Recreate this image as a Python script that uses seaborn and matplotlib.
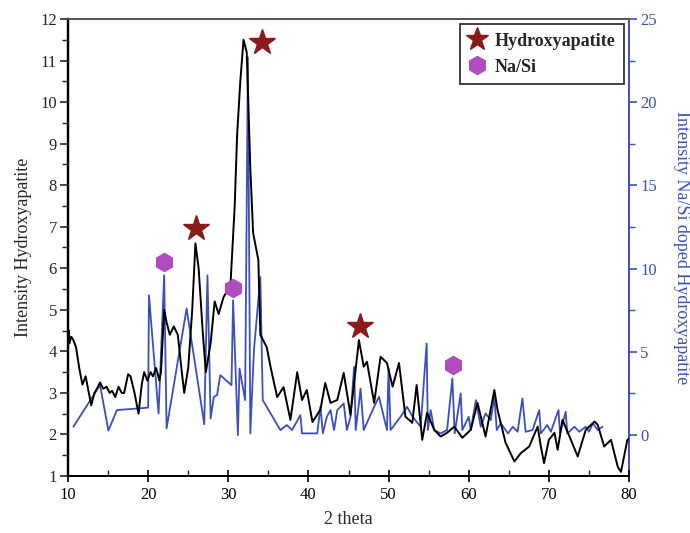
import numpy as np
import pandas as pd
import matplotlib
matplotlib.use("Agg")
import matplotlib.pyplot as plt
from matplotlib.ticker import MultipleLocator
from matplotlib.lines import Line2D
import seaborn as sns

# ---- data ----
hap_theta = [10.0, 10.1, 10.2, 10.4, 10.6, 11.0, 11.4, 11.8, 12.2, 12.6, 12.9, 13.3, 13.6, 14.0,
             14.4, 14.8, 15.2, 15.5, 15.9, 16.3, 16.7, 17.0, 17.5, 17.8, 18.3, 18.8, 19.2, 19.5,
             19.9, 20.3, 20.6, 21.0, 21.4, 21.6, 22.0, 22.3, 22.7, 23.2, 23.7, 24.2, 24.5, 25.0,
             25.5, 25.9, 26.3, 26.8, 27.2, 27.8, 28.3, 28.8, 29.4, 30.0, 30.3, 30.8, 31.1, 31.5,
             31.9, 32.3, 32.75, 33.1, 33.75, 34.0, 34.8, 35.3, 36.1, 36.9, 37.75, 38.6, 39.2, 39.8,
             40.5, 41.5, 42.1, 42.75, 43.6, 44.4, 45.25, 46.3, 46.9, 47.3, 48.2, 49.0, 49.8, 50.5,
             51.3, 52.1, 52.96, 53.5, 54.2, 54.8, 55.7, 56.5, 57.3, 58.2, 59.2, 60.25, 61.1, 62.1,
             63.2, 63.6, 64.6, 65.7, 66.5, 67.55, 68.6, 69.0, 69.4, 70.0, 70.7, 71.1, 71.7, 72.75,
             73.6, 74.6, 75.7, 76.1, 76.9, 77.75, 78.6, 79.0, 79.8, 80.0]
hap_int = [4.1, 4.5, 4.2, 4.35, 4.3, 4.1, 3.6, 3.2, 3.4, 3.0, 2.7, 3.0, 3.1, 3.25,
           3.1, 3.15, 3.0, 3.05, 2.9, 3.15, 3.0, 3.0, 3.45, 3.4, 3.0, 2.5, 3.2, 3.5,
           3.3, 3.5, 3.4, 3.6, 3.3, 3.5, 5.0, 4.7, 4.4, 4.6, 4.4, 3.5, 3.0, 3.6,
           5.0, 6.6, 6.0, 4.5, 3.5, 4.2, 5.2, 4.9, 5.3, 5.5, 5.7, 7.5, 9.2, 10.5,
           11.5, 11.2, 8.4, 6.85, 6.2, 4.4, 4.1, 3.6, 2.9, 3.14, 2.35, 3.5, 2.83, 3.07,
           2.3, 2.6, 3.24, 2.76, 2.83, 3.48, 2.47, 4.27, 3.63, 3.75, 2.76, 3.87, 3.72, 3.15,
           3.72, 2.43, 2.28, 3.19, 1.87, 2.52, 2.11, 1.95, 2.04, 2.19, 1.92, 2.11, 2.76, 1.95,
           3.07, 2.59, 1.80, 1.35, 1.55, 1.71, 2.19, 1.71, 1.31, 1.87, 2.04, 1.63, 2.35, 1.87,
           1.47, 2.11, 2.31, 2.23, 1.71, 1.87, 1.22, 1.1, 1.87, 1.9]

nasi_theta = [10.67, 14.0, 15.04, 16.1, 20.0, 20.1, 21.3, 22.0, 22.3, 24.0, 24.8, 27.0, 27.4, 27.8,
              28.2, 28.6, 29.0, 30.4, 30.6, 31.2, 31.4, 32.1, 32.45, 32.75, 33.2, 34.0, 34.3, 36.5,
              37.3, 37.96, 39.0, 39.2, 41.1, 41.5, 41.8, 42.3, 42.75, 43.2, 43.6, 44.4, 44.8, 45.25,
              45.7, 45.9, 46.3, 46.5, 46.9, 48.2, 48.8, 49.4, 49.8, 50.0, 50.25, 51.5, 52.3, 53.0,
              54.0, 54.75, 54.9, 55.25, 55.7, 56.5, 57.3, 57.96, 58.25, 59.0, 59.2, 60.0, 60.25, 60.9,
              61.5, 62.1, 62.75, 63.2, 63.5, 64.0, 64.9, 65.5, 66.1, 66.7, 67.1, 67.96, 68.8, 69.0,
              69.8, 70.25, 71.2, 71.4, 72.1, 72.3, 73.2, 73.8, 74.6, 75.0, 75.5, 76.1, 76.7]
nasi_int = [0.5, 3.0, 0.27, 1.5, 1.65, 8.4, 1.3, 9.6, 0.4, 5.3, 7.6, 0.65, 9.6, 1.0,
            2.3, 2.4, 3.6, 3.0, 8.1, 0.0, 4.0, 2.1, 22.7, 0.1, 5.1, 9.5, 2.1, 0.3,
            0.6, 0.3, 1.2, 0.1, 0.1, 1.7, 0.1, 1.1, 1.5, 0.3, 1.5, 1.9, 0.3, 1.1,
            4.1, 0.3, 1.9, 2.8, 0.3, 1.7, 2.3, 1.1, 0.3, 4.0, 0.3, 1.1, 1.7, 1.1,
            0.5, 5.5, 0.3, 1.5, 0.3, 0.1, 0.3, 3.4, 0.1, 2.5, 0.3, 1.1, 0.3, 2.1,
            0.5, 1.3, 0.9, 2.3, 0.3, 0.7, 0.1, 0.5, 0.2, 2.2, 0.2, 0.3, 1.5, 0.1,
            0.6, 0.2, 1.5, 0.1, 1.4, 0.1, 0.5, 0.2, 0.5, 0.2, 0.7, 0.3, 0.5]

hap_peak_theta = [26.0, 34.2, 46.4]
hap_peak_int = [6.97, 11.45, 4.6]
nasi_peak_theta = [22.0, 30.6, 58.0]
nasi_peak_int = [6.15, 5.53, 3.67]

x_ticks = [10, 20, 30, 40, 50, 60, 70, 80]
left_ticks = list(range(1, 13))
right_ticks = [0, 5, 10, 15, 20, 25]

# ---- styling ----
sns.set_theme(style="white")
plt.rcParams['font.family'] = ['Liberation Serif', 'DejaVu Serif']
plt.rcParams['mathtext.fontset'] = 'stix'

BLUE = "#3b4fbf"
STAR = "#8b1a1a"
HEX = "#b04cbf"

df_hap = pd.DataFrame({"theta": hap_theta, "I": hap_int})
df_nasi = pd.DataFrame({"theta": nasi_theta, "I": nasi_int})

fig = plt.figure(figsize=(6.9, 5.33), dpi=100)
ax = fig.add_axes([68/690, 1-476/533, (629-68)/690, (476-19)/533])
ax2 = ax.twinx()

sns.lineplot(data=df_nasi, x="theta", y="I", ax=ax2, color=BLUE, lw=1.3,
             estimator=None, sort=False, zorder=2)
sns.lineplot(data=df_hap, x="theta", y="I", ax=ax, color="black", lw=1.4,
             estimator=None, sort=False, zorder=3)
ax.set_zorder(ax2.get_zorder() + 1)
ax.patch.set_visible(False)

ax.plot(hap_peak_theta, hap_peak_int, ls="none", marker="*", ms=19, color=STAR,
        markeredgecolor=STAR, zorder=5)
ax.plot(nasi_peak_theta, nasi_peak_int, ls="none", marker="h", ms=13, color=HEX,
        markeredgecolor=HEX, zorder=5)

ax.set_xlim(10, 80)
ax.set_ylim(1, 12)
ax2.set_ylim(-2.46, 25)

ax.set_xticks(x_ticks)
ax.set_yticks(left_ticks)
ax2.set_yticks(right_ticks)
ax.xaxis.set_minor_locator(MultipleLocator(5))
ax.yaxis.set_minor_locator(MultipleLocator(0.5))
ax2.yaxis.set_minor_locator(MultipleLocator(2.5))

ax.tick_params(axis="x", which="major", direction="inout", length=8, width=1.2,
               labelsize=12, bottom=True, top=False, pad=4, colors="black")
ax.tick_params(axis="x", which="minor", direction="in", length=4, width=1.0,
               bottom=True, top=False)
ax.tick_params(axis="y", which="major", direction="out", length=6, width=1.2,
               labelsize=12, left=True, right=False, pad=2)
ax.tick_params(axis="y", which="minor", direction="out", length=4, width=1.0, left=True, right=False)
ax2.tick_params(axis="y", which="major", direction="out", length=6, width=1.2,
                labelsize=12, colors=BLUE, labelcolor=BLUE, right=True, left=False, pad=2)
ax2.tick_params(axis="y", which="minor", direction="out", length=4, width=1.0,
                colors=BLUE, right=True, left=False)

for a in (ax, ax2):
    a.spines["left"].set_color("black")
    a.spines["left"].set_linewidth(1.6)
    a.spines["bottom"].set_color("black")
    a.spines["bottom"].set_linewidth(1.4)
    a.spines["top"].set_color("#555555")
    a.spines["top"].set_linewidth(1.3)
    a.spines["right"].set_color(BLUE)
    a.spines["right"].set_linewidth(1.4)
    a.spines["right"].set_visible(True)
ax.spines["right"].set_visible(False)

ax.set_xlabel("2 theta", fontsize=13, labelpad=6)
ax.set_ylabel("Intensity Hydroxyapatite", fontsize=13, labelpad=6)
ax2.set_ylabel("Intensity Na/Si doped Hydroxyapatite", fontsize=13, color=BLUE,
               rotation=270, labelpad=24)

handles = [Line2D([], [], ls="none", marker="*", ms=17, color=STAR, label="Hydroxyapatite"),
           Line2D([], [], ls="none", marker="h", ms=13, color=HEX, label="Na/Si")]
leg = ax.legend(handles=handles, loc="upper right", bbox_to_anchor=(1.0, 1.0),
                borderaxespad=0.3,
                frameon=True, fancybox=False, edgecolor="#333333", framealpha=1,
                prop={"weight": "bold", "size": 13}, handletextpad=0.55,
                borderpad=0.45, labelspacing=0.5, handlelength=0.9)
leg.get_frame().set_linewidth(1.3)

fig.savefig("out.png", dpi=100)
